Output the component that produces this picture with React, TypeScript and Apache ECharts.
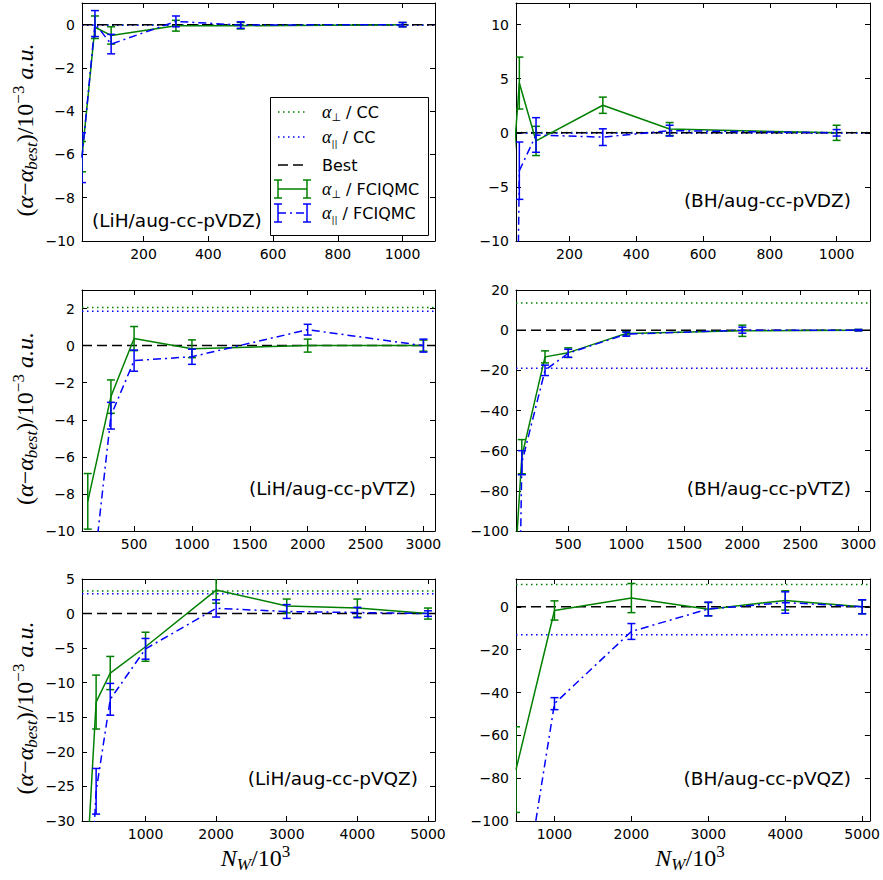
import React, { useEffect, useRef } from "react";
import * as echarts from "echarts";

const GREEN = "#008000";
const BLUE = "#0000ff";

// ---------- data ----------
const panelNames = [
  "(LiH/aug-cc-pVDZ)",
  "(BH/aug-cc-pVDZ)",
  "(LiH/aug-cc-pVTZ)",
  "(BH/aug-cc-pVTZ)",
  "(LiH/aug-cc-pVQZ)",
  "(BH/aug-cc-pVQZ)",
];

// LiH aug-cc-pVDZ
const lihVdzX = [10, 50, 100, 300, 500, 1000];
const lihVdzPerp = [-6.1, -0.12, -0.5, -0.05, -0.05, 0];
const lihVdzPerpErr = [0.7, 0.52, 0.4, 0.25, 0.15, 0.1];
const lihVdzPar = [-6.15, 0.05, -0.9, 0.15, -0.02, 0];
const lihVdzParErr = [1.15, 0.6, 0.45, 0.25, 0.15, 0.1];
const lihVdzCC = [0.0, -0.03];

// BH aug-cc-pVDZ
const bhVdzX = [10, 50, 100, 300, 500, 1000];
const bhVdzPerp = [-12, 4.6, -0.75, 2.55, 0.35, 0];
const bhVdzPerpErr = [0, 2.4, 1.35, 0.75, 0.6, 0.7];
const bhVdzPar = [-100, -3.5, -0.2, -0.4, 0.2, 0];
const bhVdzParErr = [0, 2.65, 1.6, 0.77, 0.5, 0.3];
const bhVdzCC = [0.03, -0.03];

// LiH aug-cc-pVTZ
const lihVtzX = [100, 300, 500, 1000, 2000, 3000];
const lihVtzPerp = [-8.4, -2.75, 0.38, -0.17, 0.0, 0.0];
const lihVtzPerpErr = [1.5, 0.9, 0.65, 0.48, 0.35, 0.3];
const lihVtzPar = [-15, -3.78, -0.81, -0.6, 0.86, 0.0];
const lihVtzParErr = [0, 0.72, 0.57, 0.41, 0.29, 0.35];
const lihVtzCC = [2.05, 1.85];

// BH aug-cc-pVTZ
const bhVtzX = [50, 100, 300, 500, 1000, 2000, 3000];
const bhVtzPerp = [-110, -63, -13.3, -11.2, -1.6, -0.3, 0];
const bhVtzPerpErr = [0, 8.5, 3, 2.4, 0.8, 2.8, 0.4];
const bhVtzPar = [-250, -66, -20, -11.5, -2, 0, 0];
const bhVtzParErr = [0, 6, 2.6, 2, 1, 1.5, 0.3];
const bhVtzCC = [13.5, -19];

// LiH aug-cc-pVQZ
const lihVqzX = [200, 300, 500, 1000, 2000, 3000, 4000, 5000];
const lihVqzPerp = [-31, -12.8, -8.6, -4.8, 3.4, 1.1, 0.8, 0.0];
const lihVqzPerpErr = [0, 3.9, 2.4, 2.1, 1.9, 1.0, 1.3, 0.8];
const lihVqzPar = [-45, -25.7, -12.4, -5.1, 0.75, 0.3, 0.15, 0.0];
const lihVqzParErr = [0, 3.3, 2.3, 1.5, 1.25, 1.0, 0.75, 0.4];
const lihVqzCC = [3.25, 2.85];

// BH aug-cc-pVQZ
const bhVqzX = [500, 1000, 2000, 3000, 4000, 5000];
const bhVqzPerp = [-76, -1.7, 4.1, -1.1, 3, 0];
const bhVqzPerpErr = [20, 4.5, 6.8, 3.1, 4.5, 3.2];
const bhVqzPar = [-158, -45.2, -11.5, -1, 2, 0];
const bhVqzParErr = [0, 2.8, 3.7, 3.2, 5, 3.3];
const bhVqzCC = [10.4, -13];

// axes
const xMin = [10, 40, 50, 50, 100, 500];
const xMax = [1100, 1100, 3100, 3100, 5100, 5100];
const yMin = [-10, -10, -10, -100, -30, -100];
const yMax = [1, 12, 3, 20, 5, 13];
const xTicks = [
  [200, 400, 600, 800, 1000],
  [200, 400, 600, 800, 1000],
  [500, 1000, 1500, 2000, 2500, 3000],
  [500, 1000, 1500, 2000, 2500, 3000],
  [1000, 2000, 3000, 4000, 5000],
  [1000, 2000, 3000, 4000, 5000],
];
const yTicks = [
  [-10, -8, -6, -4, -2, 0],
  [-10, -5, 0, 5, 10],
  [-10, -8, -6, -4, -2, 0, 2],
  [-100, -80, -60, -40, -20, 0, 20],
  [-30, -25, -20, -15, -10, -5, 0, 5],
  [-100, -80, -60, -40, -20, 0],
];

const panels = [
  { x: lihVdzX, perp: lihVdzPerp, perpErr: lihVdzPerpErr, par: lihVdzPar, parErr: lihVdzParErr, cc: lihVdzCC },
  { x: bhVdzX, perp: bhVdzPerp, perpErr: bhVdzPerpErr, par: bhVdzPar, parErr: bhVdzParErr, cc: bhVdzCC },
  { x: lihVtzX, perp: lihVtzPerp, perpErr: lihVtzPerpErr, par: lihVtzPar, parErr: lihVtzParErr, cc: lihVtzCC },
  { x: bhVtzX, perp: bhVtzPerp, perpErr: bhVtzPerpErr, par: bhVtzPar, parErr: bhVtzParErr, cc: bhVtzCC },
  { x: lihVqzX, perp: lihVqzPerp, perpErr: lihVqzPerpErr, par: lihVqzPar, parErr: lihVqzParErr, cc: lihVqzCC },
  { x: bhVqzX, perp: bhVqzPerp, perpErr: bhVqzPerpErr, par: bhVqzPar, parErr: bhVqzParErr, cc: bhVqzCC },
];

// ---------- layout ----------
const gridRects = [
  { left: 82, top: 3, width: 353, height: 238 },
  { left: 516, top: 3, width: 354, height: 238 },
  { left: 82, top: 290, width: 353, height: 241 },
  { left: 516, top: 290, width: 354, height: 241 },
  { left: 82, top: 579, width: 353, height: 242 },
  { left: 516, top: 579, width: 354, height: 242 },
];
const annot = [
  { x: 92, y: 220, align: "left" },
  { x: 851, y: 200, align: "right" },
  { x: 416, y: 488, align: "right" },
  { x: 851, y: 488, align: "right" },
  { x: 418, y: 778, align: "right" },
  { x: 851, y: 778, align: "right" },
];

const SANS = "DejaVu Sans";
const SERIF = "Liberation Serif";
const fmt = (v: number) => (v < 0 ? "\u2212" + Math.abs(v) : String(v));
const black = { color: "#000", width: 1 };

function errRender(color: string) {
  return (params: any, api: any) => {
    const x = api.value(0);
    const a = api.coord([x, api.value(1)]);
    const b = api.coord([x, api.value(2)]);
    const w = 4;
    const style = { stroke: color, lineWidth: 1.5, fill: null };
    return {
      type: "group",
      children: [
        { type: "line", shape: { x1: a[0], y1: a[1], x2: b[0], y2: b[1] }, style },
        { type: "line", shape: { x1: a[0] - w, y1: a[1], x2: a[0] + w, y2: a[1] }, style },
        { type: "line", shape: { x1: b[0] - w, y1: b[1], x2: b[0] + w, y2: b[1] }, style },
      ],
    };
  };
}

function errData(x: number[], v: number[], e: number[]) {
  const out: number[][] = [];
  x.forEach((xv, k) => {
    if (e[k] > 0) out.push([xv, v[k] - e[k], v[k] + e[k]]);
  });
  return out;
}

const mathRich = {
  r: { fontFamily: SERIF, fontSize: 24, lineHeight: 30, color: "#000" },
  m: { fontFamily: SERIF, fontStyle: "italic", fontSize: 24, lineHeight: 30, color: "#000" },
  sub: { fontFamily: SERIF, fontStyle: "italic", fontSize: 17, lineHeight: 17, verticalAlign: "bottom", color: "#000" },
  sup: { fontFamily: SERIF, fontSize: 17, lineHeight: 17, verticalAlign: "top", color: "#000" },
};

const legRich = {
  a: { fontFamily: SERIF, fontStyle: "italic", fontSize: 18, lineHeight: 22, color: "#000" },
  s: { fontFamily: SANS, fontSize: 11, lineHeight: 11, verticalAlign: "bottom", color: "#000" },
  q: { fontFamily: SANS, fontSize: 9, lineHeight: 11, verticalAlign: "bottom", color: "#000" },
  n: { fontFamily: SANS, fontSize: 16, lineHeight: 22, color: "#000" },
};

function buildOption() {
  const xAxis: any[] = [];
  const yAxis: any[] = [];
  const series: any[] = [];
  for (let i = 0; i < 6; i++) {
    xAxis.push({
      type: "value", gridIndex: i, position: "bottom", min: xMin[i], max: xMax[i],
      axisLine: { show: true, onZero: false, lineStyle: black },
      axisTick: { show: true, inside: true, length: 5, customValues: xTicks[i], lineStyle: black },
      axisLabel: { show: true, customValues: xTicks[i], formatter: fmt, fontSize: 14, fontFamily: SANS, color: "#000", margin: 6 },
      splitLine: { show: false },
    });
  }
  for (let i = 0; i < 6; i++) {
    xAxis.push({
      type: "value", gridIndex: i, position: "top", min: xMin[i], max: xMax[i],
      axisLine: { show: true, onZero: false, lineStyle: black },
      axisTick: { show: true, inside: true, length: 5, customValues: xTicks[i], lineStyle: black },
      axisLabel: { show: false },
      splitLine: { show: false },
    });
  }
  for (let i = 0; i < 6; i++) {
    yAxis.push({
      type: "value", gridIndex: i, position: "left", min: yMin[i], max: yMax[i],
      axisLine: { show: true, onZero: false, lineStyle: black },
      axisTick: { show: true, inside: true, length: 5, customValues: yTicks[i], lineStyle: black },
      axisLabel: { show: true, customValues: yTicks[i], formatter: fmt, fontSize: 14, fontFamily: SANS, color: "#000", margin: 7 },
      splitLine: { show: false },
    });
  }
  for (let i = 0; i < 6; i++) {
    yAxis.push({
      type: "value", gridIndex: i, position: "right", min: yMin[i], max: yMax[i],
      axisLine: { show: true, onZero: false, lineStyle: black },
      axisTick: { show: true, inside: true, length: 5, customValues: yTicks[i], lineStyle: black },
      axisLabel: { show: false },
      splitLine: { show: false },
    });
  }

  panels.forEach((p, i) => {
    const common = { xAxisIndex: i, yAxisIndex: i, silent: true, clip: true };
    series.push({
      ...common, type: "line", symbol: "none", z: 2,
      data: [[xMin[i], p.cc[0]], [xMax[i], p.cc[0]]],
      lineStyle: { color: GREEN, width: 1.5, type: [1.5, 3.5] },
    });
    series.push({
      ...common, type: "line", symbol: "none", z: 2,
      data: [[xMin[i], p.cc[1]], [xMax[i], p.cc[1]]],
      lineStyle: { color: BLUE, width: 1.5, type: [1.5, 3.5] },
    });
    series.push({
      ...common, type: "line", symbol: "none", z: 2,
      data: [[xMin[i], 0], [xMax[i], 0]],
      lineStyle: { color: "#000", width: 1.5, type: [10, 5] },
    });
    series.push({
      ...common, type: "line", symbol: "none", z: 3,
      data: p.x.map((xv, k) => [xv, p.perp[k]]),
      lineStyle: { color: GREEN, width: 1.5, type: "solid" },
    });
    series.push({
      ...common, type: "custom", z: 3,
      renderItem: errRender(GREEN),
      encode: { x: 0, y: [1, 2] },
      data: errData(p.x, p.perp, p.perpErr),
    });
    series.push({
      ...common, type: "line", symbol: "none", z: 4,
      data: p.x.map((xv, k) => [xv, p.par[k]]),
      lineStyle: { color: BLUE, width: 1.5, type: [8, 4, 2, 4] },
    });
    series.push({
      ...common, type: "custom", z: 4,
      renderItem: errRender(BLUE),
      encode: { x: 0, y: [1, 2] },
      data: errData(p.x, p.par, p.parErr),
    });
  });

  const elements: any[] = [];
  // panel annotations
  panelNames.forEach((name, i) => {
    elements.push({
      type: "text", x: annot[i].x, y: annot[i].y, z: 50,
      style: { text: name, fontFamily: SANS, fontSize: 18.5, fill: "#000", align: annot[i].align, verticalAlign: "middle" },
    });
  });
  // y labels
  const yLabel = "{r|(}{m|α}{r|\u2212}{m|α}{sub|best}{r|)/10}{sup|\u22123}{r| }{m|a.u.}";
  gridRects.forEach((g, i) => {
    if (i % 2 === 0) {
      elements.push({
        type: "text", x: 25, y: g.top + g.height / 2 + 8, rotation: Math.PI / 2, z: 50,
        style: { text: yLabel, rich: mathRich, align: "center", verticalAlign: "middle", fill: "#000" },
      });
    }
  });
  // x labels
  const xLabel = "{m|N}{sub|W}{r|/10}{sup|3}";
  [4, 5].forEach((i) => {
    const g = gridRects[i];
    elements.push({
      type: "text", x: g.left + g.width / 2 - 3, y: 858, z: 50,
      style: { text: xLabel, rich: mathRich, align: "center", verticalAlign: "middle", fill: "#000" },
    });
  });

  // legend in first panel
  const lx0 = 278, lx1 = 307, tx = 322;
  const rows = [112, 137, 165, 189, 213];
  elements.push({
    type: "rect", z: 60, shape: { x: 270.5, y: 97.5, width: 158, height: 138 },
    style: { fill: "#fff", stroke: "#000", lineWidth: 1 },
  });
  const legLine = (y: number, color: string, dash: any) => ({
    type: "line", z: 61, shape: { x1: lx0, y1: y, x2: lx1, y2: y },
    style: { stroke: color, lineWidth: 1.5, lineDash: dash },
  });
  const legBar = (x: number, y: number, color: string) => [
    { type: "line", z: 61, shape: { x1: x, y1: y - 9, x2: x, y2: y + 9 }, style: { stroke: color, lineWidth: 1.5 } },
    { type: "line", z: 61, shape: { x1: x - 4, y1: y - 9, x2: x + 4, y2: y - 9 }, style: { stroke: color, lineWidth: 1.5 } },
    { type: "line", z: 61, shape: { x1: x - 4, y1: y + 9, x2: x + 4, y2: y + 9 }, style: { stroke: color, lineWidth: 1.5 } },
  ];
  elements.push(legLine(rows[0], GREEN, [1.5, 3.5]));
  elements.push(legLine(rows[1], BLUE, [1.5, 3.5]));
  elements.push(legLine(rows[2], "#000", [10, 5]));
  elements.push(legLine(rows[3], GREEN, null));
  elements.push(...legBar(lx0, rows[3], GREEN), ...legBar(lx1, rows[3], GREEN));
  elements.push(legLine(rows[4], BLUE, [8, 4, 2, 4]));
  elements.push(...legBar(lx0, rows[4], BLUE), ...legBar(lx1, rows[4], BLUE));
  const legTexts = [
    "{a|α}{s|\u22a5}{n| / CC}",
    "{a|α}{q|||}{n| / CC}",
    "{n|Best}",
    "{a|α}{s|\u22a5}{n| / FCIQMC}",
    "{a|α}{q|||}{n| / FCIQMC}",
  ];
  legTexts.forEach((t, k) => {
    elements.push({
      type: "text", x: tx, y: rows[k], z: 62,
      style: { text: t, rich: legRich, align: "left", verticalAlign: "middle", fill: "#000" },
    });
  });

  return {
    animation: false,
    backgroundColor: "#fff",
    grid: gridRects.map((g) => ({ ...g, containLabel: false })),
    xAxis,
    yAxis,
    series,
    graphic: { elements },
  };
}

export default function App() {
  const ref = useRef<HTMLDivElement>(null);
  useEffect(() => {
    const chart = echarts.init(ref.current!, null, { renderer: "svg" });
    chart.setOption(buildOption() as any);
    return () => chart.dispose();
  }, []);
  return (
    <div
      ref={ref}
      style={{ position: "absolute", left: 0, top: 0, width: 883, height: 880, background: "#fff" }}
    />
  );
}
